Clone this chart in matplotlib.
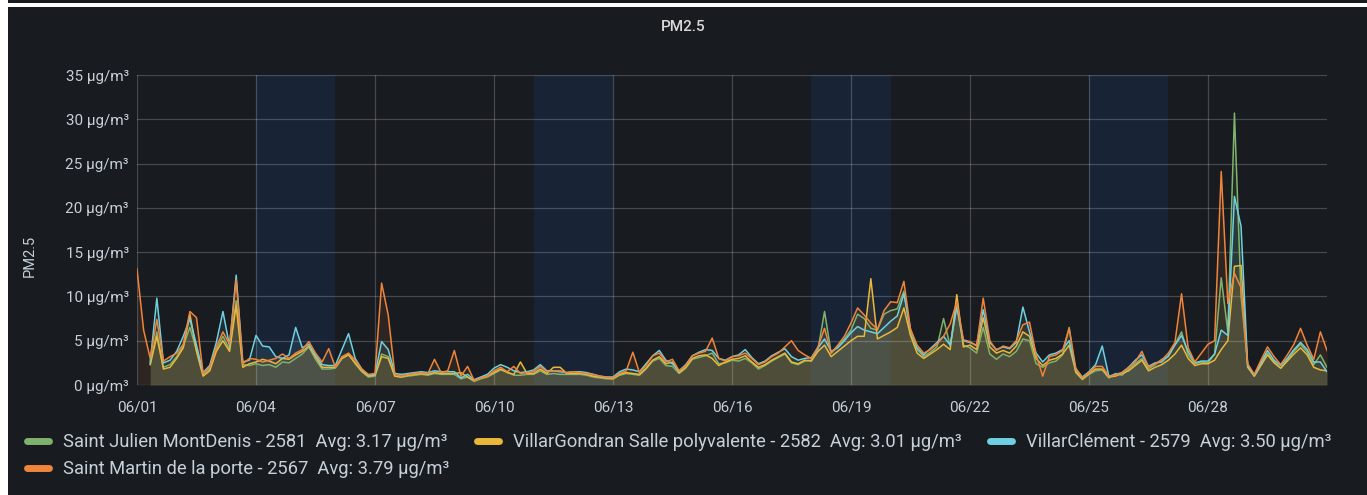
"""
PM2.5 panel (Grafana-like dark dashboard), June 2022, four stations.
Values read off the reference screenshot at 4-hour steps.
"""
import matplotlib
matplotlib.use("Agg")
import matplotlib.pyplot as plt
import matplotlib.dates as mdates
from matplotlib.lines import Line2D
from matplotlib.patches import Rectangle
import numpy as np
import pandas as pd

plt.rcParams["font.family"] = ["Roboto", "DejaVu Sans"]

nan = np.nan
times = pd.date_range("2022-06-01", "2022-07-01", freq="4h")

# one row per day: 00h 04h 08h 12h 16h 20h, plus the closing point 07/01 00h
st_martin = [
    13.1, 6.2, 3.0, 7.4, 2.7, 3.2,
    3.6, 4.6, 8.3, 7.6, 1.3, 2.0,
    4.3, 6.0, 4.6, 11.9, 2.4, 3.0,
    2.9, 2.6, 2.8, 3.0, 3.5, 3.0,
    3.6, 4.0, 4.9, 3.6, 2.6, 4.1,
    2.0, 3.2, 3.6, 2.8, 1.8, 1.2,
    1.3, 11.5, 7.9, 1.2, 1.0, 1.2,
    1.3, 1.4, 1.3, 2.9, 1.4, 1.6,
    3.9, 1.0, 2.1, 0.5, 0.8, 1.0,
    1.6, 2.0, 1.5, 2.1, 1.3, 1.4,
    1.5, 2.1, 1.5, 1.6, 1.6, 1.4,
    1.5, 1.4, 1.3, 1.2, 1.0, 0.9,
    0.8, 1.3, 1.6, 3.7, 1.4, 2.2,
    3.3, 3.6, 2.6, 2.9, 1.6, 2.2,
    3.3, 3.6, 3.8, 5.3, 3.0, 2.7,
    3.2, 3.3, 3.6, 3.0, 2.3, 2.6,
    3.2, 3.6, 4.3, 5.0, 3.9, 3.4,
    3.0, 4.3, 6.4, 3.6, 4.5, 5.5,
    7.0, 8.7, 7.9, 7.0, 6.3, 8.4,
    9.4, 9.3, 11.7, 6.3, 4.5, 3.6,
    4.0, 4.6, 5.5, 6.9, 9.4, 5.1,
    4.9, 4.4, 9.8, 5.0, 3.9, 4.4,
    4.2, 5.0, 6.8, 7.1, 3.4, 1.0,
    3.2, 3.4, 3.9, 6.4, 1.9, 0.8,
    1.4, 2.1, 2.1, 1.0, 1.1, 1.4,
    2.0, 2.6, 3.8, 2.0, 2.4, 2.8,
    3.6, 4.8, 10.3, 4.2, 2.6, 3.6,
    4.6, 5.0, 24.1, 9.2, 12.6, 11.0,
    2.4, 1.2, 2.8, 4.3, 3.2, 2.3,
    3.4, 4.6, 6.4, 4.5, 2.9, 6.0,
    3.9,
]
villar_clement = [
    nan, nan, 2.6, 9.8, 2.5, 2.8,
    3.8, 5.5, 7.5, 4.5, 1.4, 2.2,
    4.8, 8.3, 4.4, 12.4, 2.6, 2.8,
    5.6, 4.4, 4.3, 3.2, 3.0, 3.4,
    6.5, 4.2, 4.6, 3.4, 2.3, 2.2,
    2.2, 4.0, 5.8, 3.0, 1.8, 1.1,
    1.2, 4.9, 4.0, 1.3, 1.2, 1.3,
    1.4, 1.5, 1.4, 1.6, 1.5, 1.5,
    1.5, 0.8, 1.2, 0.6, 0.9, 1.2,
    1.9, 2.3, 2.0, 1.6, 1.4, 1.5,
    1.7, 2.3, 1.6, 1.6, 1.5, 1.4,
    1.5, 1.5, 1.4, 1.2, 1.0, 0.9,
    0.9, 1.5, 1.8, 1.7, 1.5, 2.4,
    3.3, 3.9, 2.8, 2.4, 1.6, 2.3,
    3.3, 3.7, 4.0, 3.9, 3.0, 2.8,
    3.2, 3.4, 4.0, 3.1, 2.4, 2.7,
    3.3, 3.7, 4.1, 3.2, 2.8, 3.0,
    3.1, 4.2, 5.2, 3.8, 4.2, 5.0,
    5.9, 6.6, 6.2, 6.0, 5.8, 6.5,
    7.2, 7.8, 10.3, 6.3, 4.2, 3.4,
    4.1, 4.8, 5.5, 4.5, 8.8, 5.0,
    4.8, 4.5, 8.5, 4.8, 4.0, 4.3,
    4.1, 4.8, 8.8, 6.0, 3.6, 2.6,
    3.4, 3.6, 4.0, 5.0, 1.8, 0.9,
    1.5, 2.3, 4.4, 1.0, 1.2, 1.4,
    2.0, 2.8, 3.4, 2.1, 2.5, 2.6,
    3.3, 4.5, 5.6, 3.8, 2.5, 2.7,
    2.7, 3.5, 6.2, 5.6, 21.3, 17.9,
    2.2, 1.1, 2.5, 3.9, 2.8, 2.2,
    3.0, 4.0, 4.8, 4.0, 2.6, 2.6,
    1.5,
]
villar_gondran = [
    nan, nan, 2.3, 5.5, 1.8, 2.0,
    3.0, 4.2, 8.0, 3.8, 1.0, 1.6,
    3.8, 5.0, 3.8, 9.0, 2.0, 2.4,
    2.6, 2.9, 2.7, 2.4, 3.0, 2.9,
    3.4, 3.8, 4.4, 3.2, 2.0, 2.0,
    2.0, 3.0, 3.4, 2.5, 1.6, 1.0,
    1.1, 3.2, 3.0, 1.0, 0.9, 1.1,
    1.2, 1.3, 1.2, 1.4, 1.3, 1.3,
    1.3, 1.4, 0.9, 0.5, 0.8, 1.0,
    1.4, 1.8, 1.4, 1.2, 2.6, 1.3,
    1.3, 1.8, 1.3, 2.0, 2.0, 1.3,
    1.3, 1.3, 1.2, 1.0, 0.9, 0.8,
    0.7, 1.2, 1.4, 1.3, 1.2, 1.9,
    2.8, 3.2, 2.4, 2.6, 1.4, 2.0,
    3.0, 3.3, 3.4, 3.0, 2.2, 2.6,
    2.9, 3.0, 3.3, 2.6, 2.0, 2.3,
    2.8, 3.2, 3.6, 2.6, 2.4, 2.8,
    2.7, 3.8, 4.5, 3.2, 3.8, 4.4,
    5.0, 5.5, 5.5, 12.0, 5.2, 5.6,
    6.0, 6.5, 8.7, 5.6, 3.6, 3.0,
    3.5, 4.0, 4.6, 4.0, 10.2, 4.3,
    4.5, 4.0, 7.6, 4.3, 3.6, 3.9,
    3.6, 4.4, 6.0, 5.5, 3.0, 2.2,
    2.8, 3.0, 3.5, 4.5, 1.5, 0.7,
    1.3, 1.8, 1.8, 0.9, 1.0, 1.3,
    1.6, 2.2, 2.8, 1.6, 2.0, 2.3,
    2.8, 3.5, 4.5, 3.0, 2.2, 2.4,
    2.4, 2.8, 4.0, 5.0, 13.4, 13.5,
    2.0, 1.0, 2.2, 3.4, 2.5, 1.9,
    2.7, 3.5, 4.2, 3.4, 2.0, 1.7,
    1.6,
]
st_julien = [
    nan, nan, 2.4, 6.0, 2.0, 2.3,
    3.2, 4.4, 6.5, 3.9, 1.1, 1.8,
    4.0, 5.5, 4.0, 9.5, 2.3, 2.2,
    2.4, 2.2, 2.3, 2.0, 2.6, 2.5,
    3.0, 3.5, 4.3, 2.9, 1.8, 1.8,
    1.9, 3.0, 3.5, 2.4, 1.5, 0.9,
    1.0, 3.5, 3.2, 1.0, 0.9, 1.0,
    1.1, 1.2, 1.1, 1.3, 1.2, 1.2,
    1.2, 0.7, 0.9, 0.4, 0.7, 0.9,
    1.3, 1.7, 1.5, 1.1, 1.1, 1.2,
    1.2, 1.6, 1.2, 1.3, 1.2, 1.2,
    1.2, 1.2, 1.1, 0.9, 0.8, 0.7,
    0.7, 1.1, 1.3, 1.2, 1.1, 1.8,
    2.7, 3.0, 2.2, 2.1, 1.3, 1.9,
    2.9, 3.1, 3.3, 3.6, 2.4, 2.5,
    2.8, 2.7, 3.0, 2.5, 1.8, 2.2,
    2.7, 3.1, 3.5, 2.5, 2.3, 2.7,
    2.8, 4.0, 8.3, 3.6, 4.4, 5.2,
    6.2, 8.0, 7.5, 6.4, 6.2, 8.0,
    8.4, 8.6, 10.6, 5.8, 4.0, 3.2,
    3.7, 4.3, 7.5, 4.4, 9.0, 4.5,
    4.2, 3.6, 6.5, 3.5, 2.9, 3.5,
    3.2, 3.8, 5.2, 5.0, 2.4, 2.0,
    2.5, 2.7, 3.4, 6.5, 1.4, 0.6,
    1.2, 1.6, 1.7, 0.8, 1.3, 1.1,
    1.8, 2.4, 3.0, 1.8, 2.3, 2.9,
    3.2, 4.6, 6.0, 3.4, 2.4, 2.6,
    2.5, 3.5, 12.1, 6.0, 30.7, 10.0,
    2.3, 1.0, 2.3, 3.6, 2.6, 1.9,
    2.8, 3.8, 4.6, 3.7, 2.3, 3.4,
    2.0,
]

labels = [
    "Saint Julien MontDenis - 2581  Avg: 3.17 µg/m³",
    "VillarGondran Salle polyvalente - 2582  Avg: 3.01 µg/m³",
    "VillarClément - 2579  Avg: 3.50 µg/m³",
    "Saint Martin de la porte - 2567  Avg: 3.79 µg/m³",
]
series = [st_julien, villar_gondran, villar_clement, st_martin]
colors = ["#7eb26d", "#eab839", "#6ed0e0", "#ef843c"]

weekend_starts = ["2022-06-04", "2022-06-11", "2022-06-18", "2022-06-25"]
x_ticks = ["2022-06-01", "2022-06-04", "2022-06-07", "2022-06-10", "2022-06-13",
           "2022-06-16", "2022-06-19", "2022-06-22", "2022-06-25", "2022-06-28"]
y_ticks = [0, 5, 10, 15, 20, 25, 30, 35]

BG = "#181b1f"
TXT = "#c7d0d9"
W, H = 1367, 495

fig = plt.figure(figsize=(W / 100, H / 100), dpi=100, facecolor="white")
# dark panel with the thin white frame of the screenshot
fig.patches.append(Rectangle((8 / W, 0), 1, 1 - 7 / H, transform=fig.transFigure,
                             facecolor=BG, edgecolor="none", zorder=-10))
fig.patches.append(Rectangle((8 / W, 1 - 3 / H), 1, 3 / H, transform=fig.transFigure,
                             facecolor=BG, edgecolor="none", zorder=-10))

ax = fig.add_axes([137 / W, 1 - 385 / H, 1190 / W, 310 / H])
ax.set_facecolor(BG)

for s in weekend_starts:
    a = pd.Timestamp(s)
    ax.axvspan(a, a + pd.Timedelta(days=2), color="#1f60c4", alpha=0.14, lw=0, zorder=0.5)

for vals, c in zip(series, colors):
    v = np.array(vals, dtype=float)
    ax.fill_between(times, v, 0, color=c, alpha=0.1, lw=0, zorder=1)
    ax.plot(times, v, color=c, lw=1.1, zorder=2)

ax.set_xlim(times[0], times[-1])
ax.set_ylim(0, 35)
ax.set_yticks(y_ticks)
ax.set_yticklabels([f"{v} µg/m³" for v in y_ticks])
ax.set_xticks(pd.to_datetime(x_ticks))
ax.xaxis.set_major_formatter(mdates.DateFormatter("%m/%d"))
ax.tick_params(colors=TXT, labelsize=11, length=0, pad=6)
ax.tick_params(axis="x", pad=11)
ax.grid(True, color="#ffffff", alpha=0.2, lw=0.9, zorder=0.6)
for sp in ax.spines.values():
    sp.set_visible(False)

fig.text(683 / W, 1 - 27 / H, "PM2.5", ha="center", va="center", color="#d8d9da",
         fontsize=11, fontweight="medium")
fig.text(30 / W, 1 - 256 / H, "PM2.5", ha="center", va="center", rotation=90,
         color=TXT, fontsize=10.5)

order = [0, 3, 1, 2]  # column-major fill: green/orange in column 1
handles = [Line2D([], [], color=colors[i], lw=5, solid_capstyle="round") for i in order]
leg = fig.legend(handles, [labels[i] for i in order], ncol=3, loc="upper left",
                 bbox_to_anchor=(27 / W, 1 - 433 / H), frameon=False, fontsize=13.2,
                 handlelength=1.2, handletextpad=0.75, columnspacing=1.55,
                 labelspacing=0.5, borderaxespad=0, borderpad=0)
for t in leg.get_texts():
    t.set_color(TXT)

fig.savefig("out.png", dpi=100, facecolor=fig.get_facecolor())
